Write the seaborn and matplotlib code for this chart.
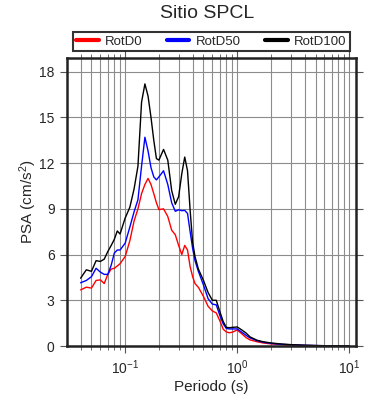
import numpy as np
import pandas as pd
import matplotlib
matplotlib.use("Agg")
import matplotlib.pyplot as plt
import seaborn as sns
from matplotlib.lines import Line2D
from matplotlib.ticker import LogLocator, NullFormatter, MultipleLocator

# periods (s) and spectral accelerations (cm/s^2)
periods = [0.04, 0.045, 0.05, 0.055, 0.06, 0.065, 0.07, 0.075, 0.08, 0.085,
           0.09, 0.1, 0.11, 0.12, 0.13, 0.14, 0.15, 0.16, 0.17, 0.18,
           0.19, 0.2, 0.22, 0.24, 0.26, 0.28, 0.30, 0.32, 0.34, 0.36,
           0.38, 0.40, 0.42, 0.45, 0.50, 0.55, 0.60, 0.65, 0.70, 0.75,
           0.80, 0.85, 0.90, 1.0, 1.1, 1.2, 1.3, 1.5, 1.7, 2.0,
           2.5, 3.0, 4.0, 5.0, 6.0, 7.5, 10.0]

rotd0 = [3.68, 3.86, 3.80, 4.30, 4.34, 4.10, 4.70, 5.05, 5.10, 5.25,
         5.40, 5.87, 6.90, 8.20, 9.00, 10.0, 10.6, 11.0, 10.6, 10.0,
         9.40, 8.95, 9.00, 8.50, 7.60, 7.30, 6.60, 6.00, 6.60, 6.30,
         5.20, 4.55, 4.10, 3.85, 3.25, 2.60, 2.30, 2.17, 1.65, 1.10,
         0.92, 0.87, 0.90, 1.05, 0.80, 0.55, 0.40, 0.28, 0.20, 0.14,
         0.09, 0.06, 0.035, 0.025, 0.015, 0.010, 0.007]

rotd50 = [4.15, 4.30, 4.55, 5.10, 4.85, 4.70, 4.70, 5.30, 6.10, 6.30,
          6.30, 6.75, 7.80, 8.80, 9.60, 11.8, 13.7, 12.8, 11.7, 11.1,
          10.9, 11.1, 11.5, 10.6, 9.40, 8.84, 8.94, 8.88, 8.90, 8.70,
          7.50, 6.40, 5.60, 4.90, 4.00, 3.10, 2.75, 2.70, 2.00, 1.45,
          1.15, 1.12, 1.12, 1.12, 0.90, 0.70, 0.53, 0.35, 0.25, 0.17,
          0.11, 0.08, 0.045, 0.030, 0.020, 0.012, 0.008]

rotd100 = [4.45, 5.00, 4.90, 5.60, 5.55, 5.70, 6.20, 6.60, 7.00, 7.55,
           7.35, 8.40, 9.10, 10.3, 11.8, 16.0, 17.2, 16.4, 15.0, 13.5,
           12.3, 12.2, 12.9, 12.2, 10.2, 9.30, 9.80, 11.3, 12.4, 11.5,
           8.90, 6.80, 5.87, 5.05, 4.30, 3.50, 3.00, 3.00, 2.25, 1.60,
           1.22, 1.20, 1.22, 1.25, 1.05, 0.85, 0.60, 0.38, 0.28, 0.20,
           0.13, 0.09, 0.05, 0.03, 0.02, 0.015, 0.010]

series_names = ["RotD0", "RotD50", "RotD100"]
colors = {"RotD0": "red", "RotD50": "blue", "RotD100": "black"}

df = pd.concat([
    pd.DataFrame({"Periodo": periods, "PSA": vals, "serie": name})
    for name, vals in zip(series_names, [rotd0, rotd50, rotd100])
])

sns.set_style("ticks")
plt.rcParams["font.family"] = ["Liberation Sans", "DejaVu Sans"]
plt.rcParams["mathtext.fontset"] = "custom"
plt.rcParams["mathtext.rm"] = "Liberation Sans"
plt.rcParams["mathtext.it"] = "Liberation Sans:italic"

fig = plt.figure(figsize=(3.9, 4.0), dpi=100)
ax = fig.add_axes([0.172, 0.135, 0.741, 0.72])

sns.lineplot(data=df, x="Periodo", y="PSA", hue="serie", palette=colors,
             hue_order=series_names, linewidth=1.0, estimator=None,
             legend=False, ax=ax)

ax.set_xscale("log")
ax.set_xlim(0.0303, 11.5)
ax.set_ylim(0, 18.9)
ax.yaxis.set_major_locator(MultipleLocator(3))
ax.xaxis.set_major_locator(LogLocator(base=10))
ax.xaxis.set_minor_locator(LogLocator(base=10, subs=np.arange(2, 10)))
ax.xaxis.set_minor_formatter(NullFormatter())

ax.grid(which="both", axis="x", color="#8c8c8c", linewidth=0.8)
ax.grid(which="major", axis="y", color="#8c8c8c", linewidth=0.8)
ax.set_axisbelow(True)

for s in ax.spines.values():
    s.set_linewidth(1.8)
    s.set_color("#222222")

ax.tick_params(which="major", direction="out", length=5, width=0.8,
               labelsize=10, top=True, right=True, pad=4, color="#555555")
ax.tick_params(which="minor", direction="out", length=3, width=0.6,
               top=True, color="#555555")

ax.set_xlabel("Periodo (s)", fontsize=11, labelpad=2)
ax.set_ylabel("PSA (cm/s$^2$)", fontsize=11, labelpad=0)

fig.text(0.53, 0.966, "Sitio SPCL", ha="center", va="center", fontsize=14)

handles = [Line2D([0], [0], color=colors[n], linewidth=3) for n in series_names]
leg = fig.legend(handles, series_names, loc="lower left",
                 bbox_to_anchor=(73 / 390, 1 - 51 / 400, 277 / 390, 23 / 400),
                 mode="expand", ncol=3, fontsize=9.5,
                 frameon=True, fancybox=False, handlelength=1.7,
                 handletextpad=0.5, borderpad=0.25, borderaxespad=0)
leg.get_frame().set_edgecolor("black")
leg.get_frame().set_linewidth(1.5)

fig.savefig("out.png", dpi=100)
